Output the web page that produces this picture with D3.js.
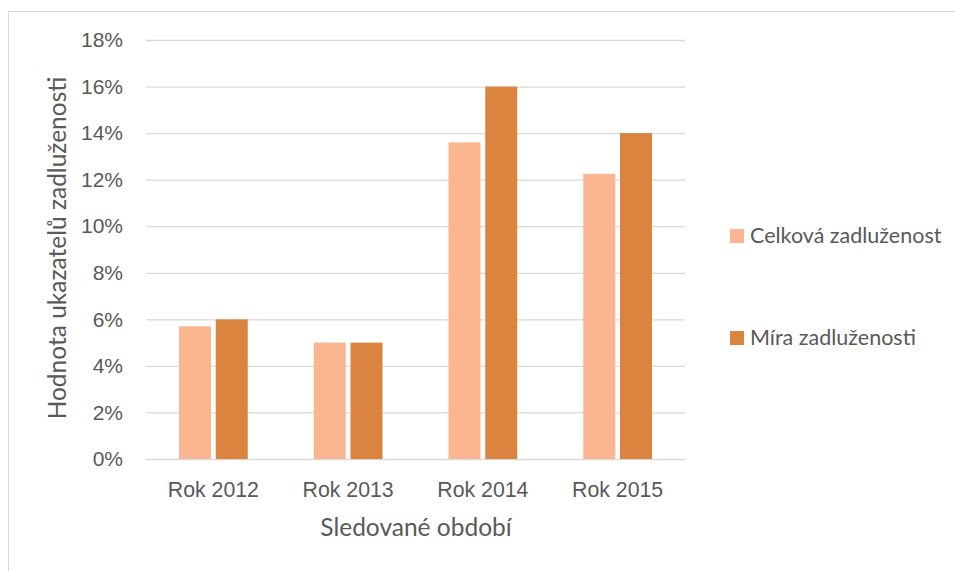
<!DOCTYPE html>
<html>
<head>
<meta charset="utf-8">
<script src="https://cdn.jsdelivr.net/npm/d3@7"></script>
<style>
  html, body { margin: 0; padding: 0; background: #fff; }
  svg { display: block; font-family: Lato, "Open Sans", sans-serif; }
</style>
</head>
<body>
<svg id="chart" width="955" height="571"></svg>
<script>
// Debt indicators by year
const categories = ["Rok 2012", "Rok 2013", "Rok 2014", "Rok 2015"];
const seriesNames = ["Celková zadluženost", "Míra zadluženosti"];
const celkova = [0.057, 0.05, 0.136, 0.1225];
const mira = [0.06, 0.05, 0.16, 0.14];
const yTicks = [0, 0.02, 0.04, 0.06, 0.08, 0.10, 0.12, 0.14, 0.16, 0.18];
const colors = ["#F9B690", "#DB843F"];

const svg = d3.select("#chart");
const margin = { left: 146, right: 270, top: 40, bottom: 112 };
const W = 955, H = 571;

// chart area border
svg.append("rect")
  .attr("x", 8.5).attr("y", 11.5)
  .attr("width", 960).attr("height", 600)
  .attr("fill", "none").attr("stroke", "#d9d9d9").attr("stroke-width", 1);

const x = d3.scaleBand().domain(categories)
  .range([margin.left, W - margin.right])
  .paddingInner(0.49).paddingOuter(0.245);
const x1 = d3.scaleBand().domain(seriesNames).range([0, x.bandwidth()]).paddingInner(0.13);
const y = d3.scaleLinear().domain([0, 0.18]).range([H - margin.bottom, margin.top]);

// gridlines and value labels
const yAxis = d3.axisLeft(y).tickValues(yTicks)
  .tickFormat(d3.format(".0%"))
  .tickSize(-(W - margin.right - margin.left)).tickPadding(23);
const gy = svg.append("g").attr("transform", `translate(${margin.left},0)`).call(yAxis);
gy.select(".domain").remove();
gy.selectAll(".tick line").attr("stroke", "#d9d9d9").attr("stroke-width", 1.3);
gy.selectAll(".tick text").attr("fill", "#595959").attr("font-size", 21);

// bars
const data = categories.map((c, i) => ({ cat: c, vals: [celkova[i], mira[i]] }));
const groups = svg.append("g").selectAll("g").data(data).join("g")
  .attr("transform", d => `translate(${x(d.cat)},0)`);
groups.selectAll("rect")
  .data(d => d.vals.map((v, j) => ({ name: seriesNames[j], v, j })))
  .join("rect")
  .attr("x", d => x1(d.name))
  .attr("width", x1.bandwidth())
  .attr("y", d => y(d.v))
  .attr("height", d => y(0) - y(d.v))
  .attr("fill", d => colors[d.j]);

// category axis
const xAxis = d3.axisBottom(x).tickSize(0).tickPadding(23);
const gx = svg.append("g").attr("transform", `translate(0,${y(0)})`).call(xAxis);
gx.select(".domain").remove();
gx.selectAll(".tick text").attr("fill", "#595959").attr("font-size", 21.3);

// axis titles
svg.append("text")
  .attr("x", 416).attr("y", 536)
  .attr("text-anchor", "middle").attr("fill", "#595959").attr("font-size", 24.5)
  .text("Sledované období");
svg.append("text")
  .attr("transform", `translate(66,248) rotate(-90)`)
  .attr("text-anchor", "middle").attr("fill", "#595959").attr("font-size", 24.5)
  .text("Hodnota ukazatelů zadluženosti");

// legend
const legend = svg.append("g").selectAll("g").data(seriesNames).join("g")
  .attr("transform", (d, i) => `translate(730,${229 + i * 102})`);
legend.append("rect").attr("width", 14).attr("height", 14)
  .attr("fill", (d, i) => colors[i]);
legend.append("text").attr("x", 20).attr("y", 13.5)
  .attr("fill", "#595959").attr("font-size", 21.5)
  .text(d => d);
</script>
</body>
</html>
